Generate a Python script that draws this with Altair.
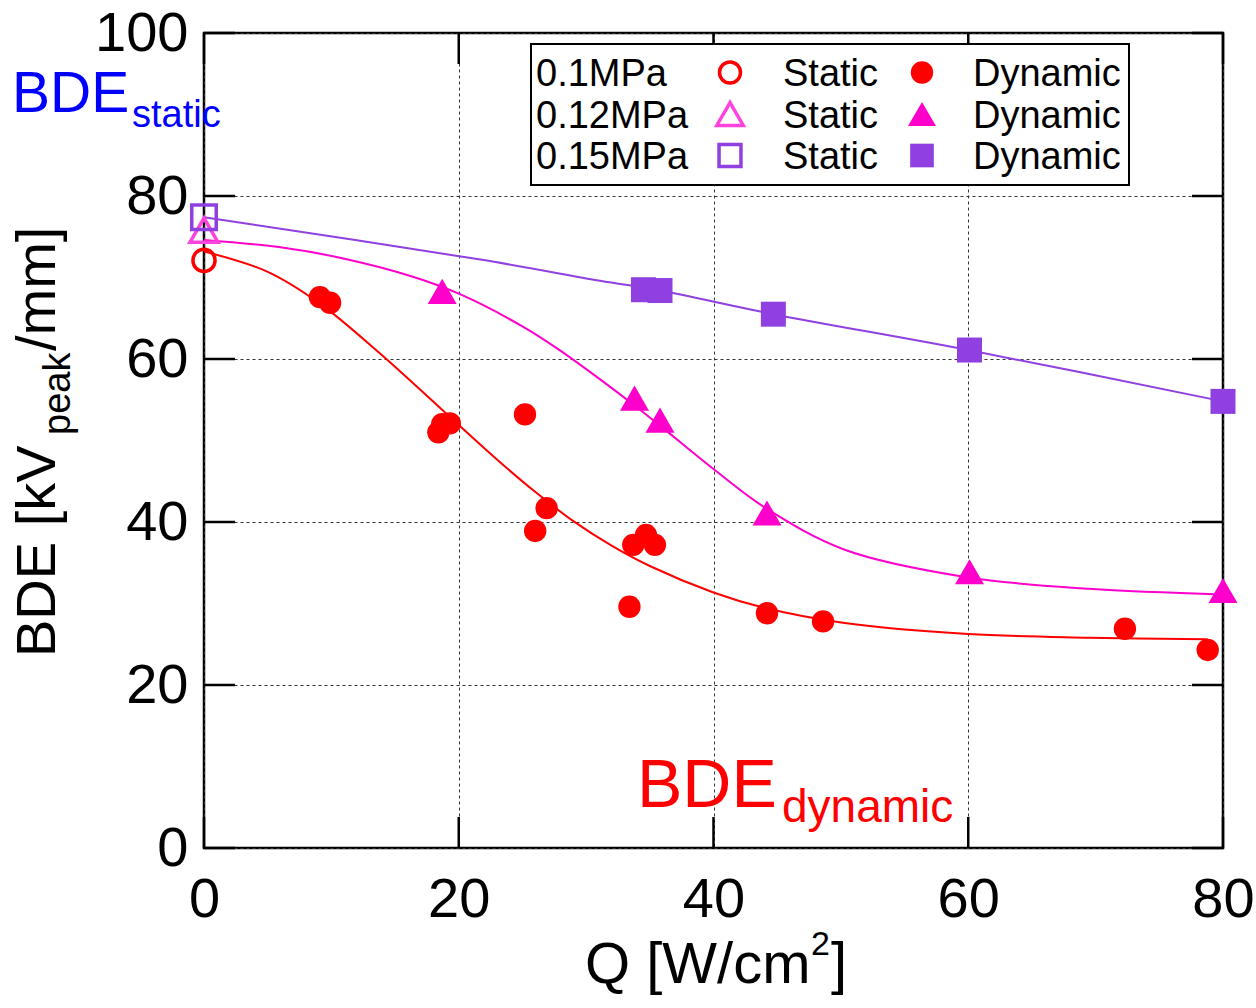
import altair as alt
import pandas as pd

FONT = "Liberation Sans"
RED = "#FF0000"
MAG = "#FF00CC"
MAG_OPEN = "#FF44DD"
PUR = "#9040E0"

# ---------------- data ----------------
# 0.1 MPa dynamic (filled circles)
q_dyn_01 = [9.1, 9.9, 18.4, 18.7, 19.3, 25.2, 26.9, 26.0, 33.7, 34.7, 35.4, 33.4, 44.2, 48.6, 72.3, 78.8]
bde_dyn_01 = [67.6, 66.9, 51.0, 52.0, 52.1, 53.2, 41.7, 38.9, 37.2, 38.4, 37.2, 29.6, 28.8, 27.8, 26.9, 24.3]
# 0.12 MPa dynamic (filled triangles)
q_dyn_012 = [18.7, 33.8, 35.8, 44.2, 60.1, 80.0]
bde_dyn_012 = [68.3, 55.2, 52.5, 41.1, 33.9, 31.6]
# 0.15 MPa dynamic (filled squares)
q_dyn_015 = [34.5, 35.8, 44.7, 60.1, 80.0]
bde_dyn_015 = [68.5, 68.4, 65.5, 61.1, 54.8]
# static values (Q = 0)
q_static = [0.0, 0.0, 0.0]
bde_static = [72.1, 75.8, 77.4]

# fitted curves
fit01_q = [0, 5, 9.1, 13.8, 20, 23.2, 26, 29, 32, 35, 40, 43.9, 50.3, 60, 69.5, 78.8]
fit01_v = [73.2, 70.7, 66.8, 60.7, 51.9, 47.4, 43.7, 40.1, 37.1, 34.6, 31.35, 29.5, 27.6, 26.25, 25.8, 25.6]
fit012_q = [0, 6, 11.2, 16.4, 20.1, 25, 28, 31.1, 33.8, 35.9, 40, 44.2, 50.3, 60, 69.5, 80]
fit012_v = [74.6, 73.7, 72.25, 70.1, 67.95, 64.0, 61.0, 57.5, 54.3, 51.7, 46.5, 41.6, 36.6, 33.2, 31.8, 31.1]
fit015_q = [0, 21.7, 31.1, 35.8, 44.7, 60, 80]
fit015_v = [77.4, 72.2, 69.6, 68.4, 65.5, 61.1, 54.8]

x_ticks = [0, 20, 40, 60, 80]
y_ticks = [0, 20, 40, 60, 80, 100]

legend_rows = ["0.1MPa", "0.12MPa", "0.15MPa"]

# ---------------- layout constants ----------------
W, H = 1019, 815
TICK = 31

xs = alt.Scale(domain=[0, 80], nice=False, zero=False)
ys = alt.Scale(domain=[0, 100], nice=False, zero=False)

x_axis = alt.Axis(values=x_ticks, title=None, domain=False, ticks=False, grid=True,
                  gridDash=[3, 3], gridColor="#333333", gridWidth=1,
                  labelFontSize=56, labelFont=FONT, labelColor="black",
                  labelPadding=24, labelFlush=False)
y_axis = alt.Axis(values=y_ticks, title=None, domain=False, ticks=False, grid=True,
                  gridDash=[3, 3], gridColor="#333333", gridWidth=1,
                  labelFontSize=56, labelFont=FONT, labelColor="black",
                  labelPadding=16, labelFlush=False)


def X():
    return alt.X("q:Q", scale=xs, axis=x_axis)


def Y():
    return alt.Y("v:Q", scale=ys, axis=y_axis)


def df(q, v):
    return pd.DataFrame({"q": q, "v": v})


layers = []

# inward ticks (bottom/top for x, left/right for y)
xt = pd.DataFrame({"q": x_ticks})
yt = pd.DataFrame({"v": y_ticks})
layers.append(alt.Chart(xt).mark_rule(color="black", strokeWidth=2.5).encode(
    x=X(), y=alt.value(H), y2=alt.value(H - TICK)))
layers.append(alt.Chart(xt).mark_rule(color="black", strokeWidth=2.5).encode(
    x=X(), y=alt.value(0), y2=alt.value(TICK)))
layers.append(alt.Chart(yt).mark_rule(color="black", strokeWidth=2.5).encode(
    y=Y(), x=alt.value(0), x2=alt.value(TICK)))
layers.append(alt.Chart(yt).mark_rule(color="black", strokeWidth=2.5).encode(
    y=Y(), x=alt.value(W - TICK), x2=alt.value(W)))

# fitted curves
for q, v, c in [(fit015_q, fit015_v, PUR), (fit012_q, fit012_v, MAG), (fit01_q, fit01_v, RED)]:
    layers.append(alt.Chart(df(q, v)).mark_line(color=c, strokeWidth=2, interpolate="catmull-rom").encode(
        x=X(), y=Y()))

# dynamic points
layers.append(alt.Chart(df(q_dyn_015, bde_dyn_015)).mark_point(
    shape="square", filled=True, size=625, color=PUR, opacity=1).encode(x=X(), y=Y()))
layers.append(alt.Chart(df(q_dyn_012, bde_dyn_012)).mark_point(
    shape="triangle-up", filled=True, size=841, color=MAG, opacity=1).encode(x=X(), y=Y()))
layers.append(alt.Chart(df(q_dyn_01, bde_dyn_01)).mark_point(
    shape="circle", filled=True, size=500, color=RED, opacity=1).encode(x=X(), y=Y()))

# static points (open)
static_shapes = [("circle", RED, 490), ("triangle-up", MAG_OPEN, 784), ("square", PUR, 600)]
for i, (shp, col, sz) in enumerate(static_shapes):
    layers.append(alt.Chart(df([q_static[i]], [bde_static[i]])).mark_point(
        shape=shp, filled=False, size=sz, color=col, strokeWidth=3.5, opacity=1).encode(x=X(), y=Y()))

dummy = pd.DataFrame({"a": [0]})


def txt(s, x, y, size, color="black", angle=0, align="left", baseline="alphabetic"):
    return alt.Chart(dummy).mark_text(text=s, fontSize=size, font=FONT, color=color,
                                      align=align, baseline=baseline, angle=angle).encode(
        x=alt.value(x), y=alt.value(y))


# legend box
layers.append(alt.Chart(dummy).mark_rect(fill="white", stroke="black", strokeWidth=2).encode(
    x=alt.value(327), x2=alt.value(925), y=alt.value(11), y2=alt.value(152)))

row_base = [53.0, 94.5, 136.0]
row_mid = [39.5, 81.0, 122.5]
open_specs = [("circle", RED, 440), ("triangle-up", MAG_OPEN, 700), ("square", PUR, 480)]
fill_specs = [("circle", RED, 500), ("triangle-up", MAG, 784), ("square", PUR, 560)]
for i, lab in enumerate(legend_rows):
    layers.append(txt(lab, 332, row_base[i], 38))
    layers.append(txt("Static", 579, row_base[i], 38))
    layers.append(txt("Dynamic", 769, row_base[i], 38))
    shp, col, sz = open_specs[i]
    layers.append(alt.Chart(dummy).mark_point(shape=shp, filled=False, size=sz, color=col,
                                              strokeWidth=3.5, opacity=1).encode(
        x=alt.value(526), y=alt.value(row_mid[i])))
    shp, col, sz = fill_specs[i]
    layers.append(alt.Chart(dummy).mark_point(shape=shp, filled=True, size=sz, color=col,
                                              opacity=1).encode(
        x=alt.value(718), y=alt.value(row_mid[i])))

# annotations
layers.append(txt("BDE", -192, 79, 57, color="#0000FF"))
layers.append(txt("static", -72, 94, 38, color="#0000FF"))
layers.append(txt("BDE", 433, 774, 68, color=RED))
layers.append(txt("dynamic", 578, 789, 46, color=RED))

# axis titles
layers.append(txt("Q [W/cm", 381, 950, 58))
layers.append(txt("2", 607, 922, 34))
layers.append(txt("]", 627, 950, 58))

layers.append(txt("BDE [kV", -149, 624, 56, angle=270))
layers.append(txt("peak", -134, 402, 38, angle=270))
layers.append(txt("/mm]", -149, 318, 56, angle=270))

chart = alt.layer(*layers).properties(
    width=W, height=H,
    autosize=alt.AutoSizeParams(type="none"),
    padding={"left": 204, "top": 33, "right": 33, "bottom": 160},
    background="white",
).configure_view(stroke="black", strokeWidth=2.5)

chart.save("out.html", embed_options={"renderer": "svg", "actions": False})
